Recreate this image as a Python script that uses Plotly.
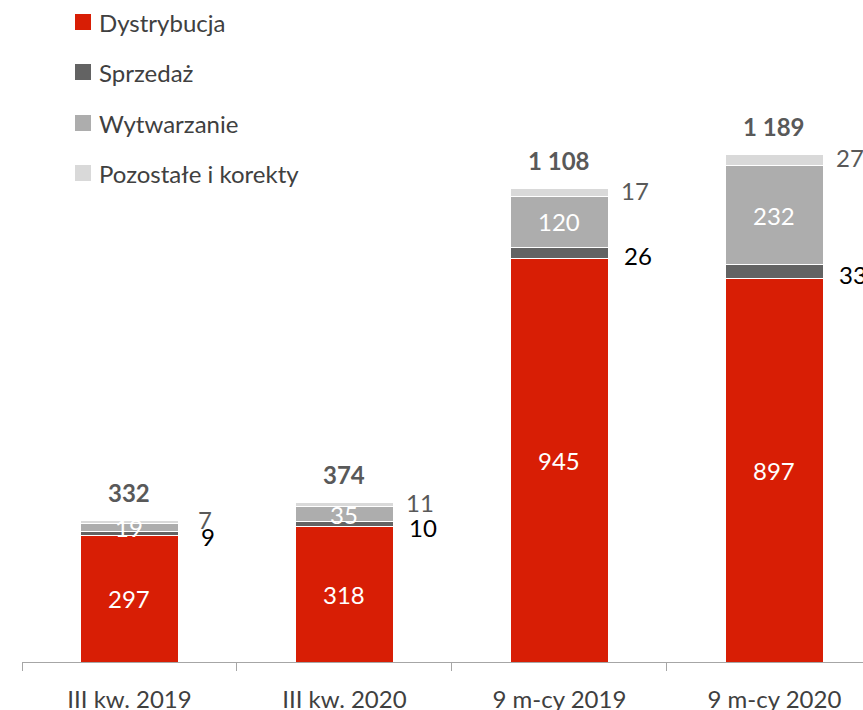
import plotly.graph_objects as go

categories = ["III kw. 2019", "III kw. 2020", "9 m-cy 2019", "9 m-cy 2020"]
dystrybucja = [297, 318, 945, 897]
sprzedaz = [9, 10, 26, 33]
wytwarzanie = [19, 35, 120, 232]
pozostale = [7, 11, 17, 27]
series_names = ["Dystrybucja", "Sprzedaż", "Wytwarzanie", "Pozostałe i korekty"]

colors = ["#D81E05", "#636363", "#ADADAD", "#D9D9D9"]
FONT = "Lato"
FS = 24

series = [dystrybucja, sprzedaz, wytwarzanie, pozostale]

fig = go.Figure()
for name, vals, col in zip(series_names, series, colors):
    fig.add_trace(go.Bar(
        x=categories, y=vals, name=name, marker=dict(color=col, line=dict(color="white", width=1)),
        width=0.456, showlegend=False, hoverinfo="skip"))

annotations = []
shapes = []
for i, cat in enumerate(categories):
    base = 0
    cums = []
    for vals in series:
        cums.append((base, base + vals[i]))
        base += vals[i]
    total = base
    b0, b1 = cums[0]
    annotations.append(dict(x=cat, y=(b0 + b1) / 2, text=str(dystrybucja[i]), showarrow=False,
                            font=dict(family=FONT, size=FS, color="white")))
    b0, b1 = cums[2]
    annotations.append(dict(x=cat, y=(b0 + b1) / 2, text=str(wytwarzanie[i]), showarrow=False,
                            font=dict(family=FONT, size=FS, color="white")))
    b0, b1 = cums[1]
    annotations.append(dict(x=cat, y=(b0 + b1) / 2, text=str(sprzedaz[i]), showarrow=False,
                            xshift=79, yshift=-3,
                            font=dict(family=FONT, size=FS, color="#000000")))
    b0, b1 = cums[3]
    annotations.append(dict(x=cat, y=(b0 + b1) / 2, text=str(pozostale[i]), showarrow=False,
                            xshift=76, yshift=2,
                            font=dict(family=FONT, size=FS, color="#595959")))
    ttxt = f"{total:,}".replace(",", " ")
    annotations.append(dict(x=cat, y=total, text=f"<b>{ttxt}</b>", showarrow=False,
                            yanchor="middle", yshift=28,
                            font=dict(family=FONT, size=FS, color="#595959")))

leg_y = [22, 72, 123, 173]
for name, col, yy in zip(series_names, colors, leg_y):
    shapes.append(dict(type="rect", xref="paper", yref="paper", xsizemode="pixel", ysizemode="pixel",
                       xanchor=0, yanchor=1, x0=53, x1=69, y0=-(yy + 8), y1=-(yy - 8),
                       fillcolor=col, line=dict(width=0)))
    annotations.append(dict(xref="paper", yref="paper", x=0, y=1, xshift=75, yshift=-yy,
                            xanchor="left", yanchor="middle", text=name, showarrow=False,
                            font=dict(family=FONT, size=FS, color="#404040")))

fig.update_layout(
    barmode="stack",
    width=863, height=710,
    margin=dict(l=22, r=0, t=0, b=48),
    paper_bgcolor="white", plot_bgcolor="white",
    annotations=annotations, shapes=shapes,
    font=dict(family=FONT, size=FS, color="#404040"),
)
fig.update_xaxes(type="category", range=[-0.5, 3.412], tickson="boundaries",
                 ticks="outside", ticklen=8, tickcolor="#A6A6A6", showline=True, linecolor="#A6A6A6",
                 linewidth=1, showgrid=False, zeroline=False, automargin=False,
                 ticklabelstandoff=16,
                 tickfont=dict(family=FONT, size=FS, color="#404040"))
fig.update_yaxes(range=[0, 1550], visible=False, showgrid=False)

fig.write_html("out.html", config={"displayModeBar": False},
               post_script="document.body.style.margin='0';document.body.style.overflow='hidden';")
